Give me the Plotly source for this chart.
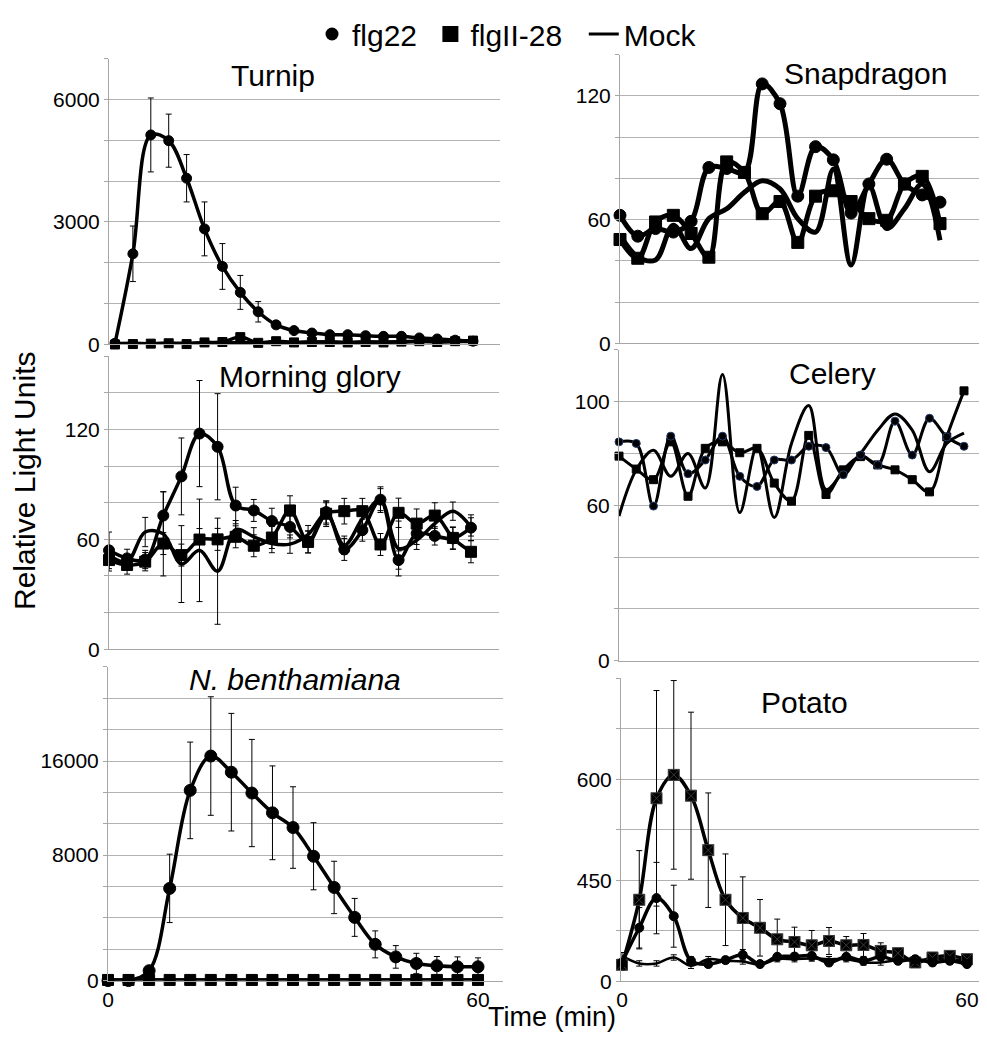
import plotly.graph_objects as go

# The page body adds an 8px margin, so the figure is drawn 8px smaller on each
# side and all reference pixel positions are shifted by that offset.
OFF = 8
W, H = 987 - 2 * OFF, 1042 - 2 * OFF

# ---------------- data ----------------
TIME_21 = [0, 3, 6, 9, 12, 15, 18, 21, 24, 27, 30, 33, 36, 39, 42, 45, 48, 51, 54, 57, 60]
TIME_SNAP = [0, 3, 6, 9, 12, 15, 18, 21, 24, 27, 30, 33, 36, 39, 42, 45, 48, 51, 54]
TIME_NB = [0, 3.33, 6.67, 10, 13.33, 16.67, 20, 23.33, 26.67, 30, 33.33, 36.67, 40,
           43.33, 46.67, 50, 53.33, 56.67, 60]

# Turnip
turnip_flg22 = [30, 2220, 5130, 4990, 4070, 2830, 1910, 1275, 800, 480, 340, 280, 240,
                240, 215, 200, 200, 160, 135, 105, 80]
turnip_flg22_err = [0, 680, 905, 650, 580, 660, 560, 415, 250, 40, 40, 30, 30, 30, 30,
                    30, 30, 30, 30, 30, 30]
turnip_flgII = [0, 10, 20, 30, 10, 50, 60, 180, 40, 80, 50, 60, 60, 50, 60, 50, 70, 80,
                60, 80, 95]
turnip_mock = [20, 30, 20, 30, 30, 40, 40, 50, 40, 50, 50, 60, 60, 50, 60, 60, 60, 70,
               70, 70, 80]

# Morning glory
mg_flg22 = [54, 49.6, 49, 73, 94.4, 117.8, 110.6, 78.5, 75.8, 70, 66.8, 58.6, 74.9, 54.5,
            65, 81.7, 48.7, 63.2, 61.9, 60.5, 66.4]
mg_flg22_err = [10, 5, 5, 13, 21, 29, 29, 10, 6, 7, 6, 6, 6, 6, 6, 7, 5, 6, 5, 6, 7]
mg_flgII = [48.7, 46, 47.8, 57.7, 51.4, 59.9, 60, 61.4, 56.5, 61, 75.8, 58.6, 74, 75.4,
            75.4, 57.2, 74.5, 68.6, 73, 60.8, 53.2]
mg_flgII_err = [6, 5, 5, 6, 6, 6, 6, 6, 6, 6, 8, 6, 7, 7, 7, 6, 8, 8, 7, 6, 6]
mg_mock = [51.4, 47.8, 64, 63, 46.5, 54, 42.6, 65.3, 61.4, 57.7, 57.4, 62.6, 74, 56.8,
           71.3, 81.7, 55, 59.5, 68.6, 75.4, 66.8]
mg_mock_err = [5, 4, 8, 23, 21, 28, 29, 5, 5, 5, 5, 5, 6, 5, 6, 6, 15, 5, 5, 5, 5]

# N. benthamiana
nb_flg22 = [0, 0, 630, 5880, 12130, 14320, 13290, 11960, 10700, 9760, 7930, 5940, 4030,
            2310, 1510, 1090, 945, 880, 880]
nb_flg22_err = [0, 0, 150, 2180, 3080, 3780, 3750, 3420, 2990, 2600, 2140, 1670, 1210,
                860, 720, 650, 590, 630, 570]
nb_flgII = [40, 40, 40, 40, 40, 40, 40, 40, 40, 40, 40, 40, 40, 40, 40, 40, 40, 40, 40]
nb_mock = [30, 30, 30, 30, 30, 30, 30, 30, 30, 30, 30, 30, 30, 30, 30, 30, 30, 30, 30]

# Snapdragon
snap_flg22 = [62.1, 52, 55.7, 54, 59.2, 85.3, 84.8, 82.9, 125.8, 116.2, 71.4, 95.4, 89,
              63.2, 77.3, 89.3, 77.3, 72, 68.5]
snap_flgII = [50.4, 41.3, 58.9, 62.1, 53.3, 41.8, 88, 82.9, 62.9, 68.8, 49, 71.4, 74,
              68.8, 60.5, 59.7, 77.3, 81, 58.1]
snap_mock = [52.5, 42, 40.5, 57.3, 46, 60.5, 65.3, 73.3, 78.9, 74.9, 60.5, 54, 84.5, 38,
             76.5, 55.7, 65.3, 77.3, 50]

# Celery
cel_flg22 = [84.5, 83.9, 59.7, 86.7, 72.2, 77.5, 86.7, 71.2, 67.3, 77.5, 77.5, 82.8, 82.3,
             71.8, 79.4, 75.6, 92.5, 79.4, 93.6, 86.4, 82.8]
cel_flgII = [79, 74, 69.9, 84.5, 63.5, 82, 84.5, 80.3, 82, 68.6, 61.6, 87, 64.2, 73.7,
             78.8, 75.6, 73.7, 69.9, 65.2, 86.4, 104.2]
cel_mock = [55.9, 73.7, 81.3, 71.2, 80, 66.7, 110.5, 57.2, 82.6, 55.3, 83.9, 98.5, 66.1,
            73, 80, 89, 95.3, 89, 73, 83.9, 87.9]

# Potato (axis shown broken: lowest gridline labelled "0")
pot_flg22 = [327.9, 379.4, 423.5, 396.6, 330.4, 325.5, 331.4, 339.2, 325.5, 336.3, 336.8,
             337.7, 327.9, 336.3, 330.4, 336.3, 330.4, 332.8, 327.9, 330.4, 325.5]
pot_flg22_err = [6, 30, 53, 46, 6, 5, 5, 8, 5, 5, 5, 5, 5, 5, 5, 5, 5, 5, 5, 5, 5]
pot_flgII = [324.5, 421, 571.6, 606.4, 575.5, 494.6, 421, 394, 379.4, 362.3, 358.3, 353.4,
             359.8, 353.4, 353.9, 345.1, 341.7, 327.9, 335.3, 337.7, 332.8]
pot_flgII_err = [8, 73, 160, 140, 124, 85, 68, 61, 42, 30, 22, 22, 20, 13, 17, 12, 6, 5,
                 5, 5, 5]
pot_mock = [337.7, 326.5, 326.5, 335.3, 323, 332.8, 330.4, 329.4, 324.5, 332.8, 332.8,
            333.8, 332.8, 332.8, 327.9, 327.9, 331.4, 331.4, 332.8, 332.8, 330.4]
pot_mock_err = [5, 4, 4, 4, 4, 4, 4, 4, 4, 4, 4, 4, 4, 4, 4, 4, 4, 4, 4, 4, 4]

# tick labels
turnip_ticks = [0, 1000, 2000, 3000, 4000, 5000, 6000, 7000]
turnip_ticktext = ["0", "", "", "3000", "", "", "6000", ""]
mg_ticks = [0, 20, 40, 60, 80, 100, 120, 140, 160]
mg_ticktext = ["0", "", "", "60", "", "", "120", "", ""]
nb_ticks = [0, 2000, 4000, 6000, 8000, 10000, 12000, 14000, 16000, 18000, 20000]
nb_ticktext = ["0", "", "", "", "8000", "", "", "16000", "", "", ""]
snap_ticks = [0, 20, 40, 60, 80, 100, 120, 140]
snap_ticktext = ["0", "", "", "60", "", "", "120", ""]
cel_ticks = [0, 20, 40, 60, 80, 100, 120]
cel_ticktext = ["0", "", "", "60", "", "100", ""]
pot_ticks = [300, 375, 450, 525, 600, 675, 750]
pot_ticktext = ["0", "", "450", "", "600", "", ""]
x_ticks = [0, 60]
x_ticktext = ["0", "60"]


def fx(px):
    return (px - OFF) / W


def fy(py):
    return 1 - (py - OFF) / H


# ---------------- layout of panels (reference pixels) ----------------
panels = [
    dict(title="Turnip", tx=273, ty=65, box=(109, 500, 48, 337), x0=115, ppm=5.967,
         yr=(0, 7000), ticks=turnip_ticks, ticktext=turnip_ticktext, bottom=False,
         t=TIME_21, f=turnip_flg22, fe=turnip_flg22_err, s=turnip_flgII, se=None,
         m=turnip_mock, me=None, cs=10, ss=9, lw=3.5, mlw=3.5),
    dict(title="Morning glory", tx=310, ty=369, box=(109, 499, 349, 645), x0=109, ppm=6.033,
         yr=(0, 160), ticks=mg_ticks, ticktext=mg_ticktext, bottom=False,
         t=TIME_21, f=mg_flg22, fe=mg_flg22_err, s=mg_flgII, se=mg_flgII_err,
         m=mg_mock, me=mg_mock_err, cs=11, ss=11, lw=3.5, mlw=3.5),
    dict(title="<i>N. benthamiana</i>", tx=295, ty=676, box=(108, 503, 663, 980), x0=108,
         ppm=6.167, yr=(0, 20000), ticks=nb_ticks, ticktext=nb_ticktext, bottom=True,
         t=TIME_NB, f=nb_flg22, fe=nb_flg22_err, s=nb_flgII, se=None,
         m=nb_mock, me=None, cs=12, ss=11, lw=3.5, mlw=3.5),
    dict(title="Snapdragon", tx=865, ty=63, box=(620, 979, 44, 336), x0=620, ppm=5.926,
         yr=(0, 140), ticks=snap_ticks, ticktext=snap_ticktext, bottom=False,
         t=TIME_SNAP, f=snap_flg22, fe=None, s=snap_flgII, se=None,
         m=snap_mock, me=None, cs=12, ss=12, lw=5, mlw=5),
    dict(title="Celery", tx=832, ty=366, box=(619, 979, 342.5, 656.7), x0=619, ppm=5.75,
         yr=(0, 120), ticks=cel_ticks, ticktext=cel_ticktext, bottom=False,
         t=TIME_21, f=cel_flg22, fe=None, s=cel_flgII, se=None,
         m=cel_mock, me=None, cs=8, ss=8, lw=3, mlw=3),
    dict(title="Potato", tx=804, ty=699, box=(621, 979, 674.3, 980.7), x0=622, ppm=5.75,
         yr=(300, 750), ticks=pot_ticks, ticktext=pot_ticktext, bottom=True,
         t=TIME_21, f=pot_flg22, fe=pot_flg22_err, s=pot_flgII, se=pot_flgII_err,
         m=pot_mock, me=pot_mock_err, cs=9, ss=11, lw=3.5, mlw=2.5),
]

FONT = "Liberation Sans, Arial, Helvetica, sans-serif"
GRID = "#b2b2b2"
AXIS = "#a6a6a6"
NB = "\u00a0"

fig = go.Figure()
layout = dict(width=W, height=H, autosize=False, margin=dict(l=0, r=0, t=0, b=0, pad=0),
              paper_bgcolor="white", plot_bgcolor="white", showlegend=True,
              font=dict(family=FONT, color="black"))
annotations = []


def err(arr):
    if arr is None:
        return None
    return dict(type="data", array=arr, visible=True, color="black", thickness=1, width=3)


for i, p in enumerate(panels, start=1):
    xa, ya = f"x{i}", f"y{i}"
    left, right, top, bottom = p["box"]
    xr = [(left - p["x0"]) / p["ppm"], (right - p["x0"]) / p["ppm"]]
    sfx = "" if i == 1 else str(i)
    layout["xaxis" + sfx] = dict(
        domain=[fx(left), min(1.0, fx(right))], range=xr, anchor=ya, showgrid=False,
        zeroline=False, showline=True, linecolor=AXIS, linewidth=1, ticks="",
        automargin=False, tickmode="array", tickvals=x_ticks, ticktext=x_ticktext,
        showticklabels=p["bottom"], tickfont=dict(size=21), fixedrange=True)
    layout["yaxis" + sfx] = dict(
        domain=[fy(bottom), fy(top)], range=list(p["yr"]), anchor=xa,
        showgrid=True, gridcolor=GRID, gridwidth=1, zeroline=False, automargin=False,
        showline=True, linecolor=AXIS, linewidth=1, ticks="outside", ticklen=4,
        tickcolor=AXIS, tickmode="array", tickvals=p["ticks"], ticktext=p["ticktext"],
        tickfont=dict(size=21), fixedrange=True)

    # Mock
    fig.add_trace(go.Scatter(x=p["t"], y=p["m"], xaxis=xa, yaxis=ya, mode="lines",
                             line=dict(color="black", width=p["mlw"], shape="spline",
                                       smoothing=1),
                             error_y=err(p["me"]), showlegend=False, cliponaxis=False,
                             name="Mock"))
    # flgII-28
    sq_symbol = "square-x" if i == 6 else "square"
    fig.add_trace(go.Scatter(x=p["t"], y=p["s"], xaxis=xa, yaxis=ya, mode="lines+markers",
                             line=dict(color="black", width=p["lw"], shape="spline",
                                       smoothing=1),
                             marker=dict(symbol=sq_symbol, size=p["ss"], color="black",
                                         line=dict(color="#3a3a3a" if i == 6 else "black",
                                                   width=1)),
                             error_y=err(p["se"]), showlegend=False, cliponaxis=False,
                             name="flgII-28"))
    # flg22
    fig.add_trace(go.Scatter(x=p["t"], y=p["f"], xaxis=xa, yaxis=ya, mode="lines+markers",
                             line=dict(color="black", width=p["lw"], shape="spline",
                                       smoothing=1),
                             marker=dict(symbol="circle", size=p["cs"], color="black",
                                         line=dict(color="#243a6b" if i == 5 else "black",
                                                   width=1)),
                             error_y=err(p["fe"]), showlegend=False, cliponaxis=False,
                             name="flg22"))

    annotations.append(dict(text=p["title"], x=fx(p["tx"]), y=fy(p["ty"]),
                            xref="paper", yref="paper", xanchor="center", yanchor="middle",
                            showarrow=False, font=dict(size=30, family=FONT)))

# legend entries
fig.add_trace(go.Scatter(x=[None], y=[None], mode="markers", name="flg22" + NB,
                         marker=dict(symbol="circle", size=13, color="black")))
fig.add_trace(go.Scatter(x=[None], y=[None], mode="markers", name="flgII-28" + NB + NB,
                         marker=dict(symbol="square", size=16, color="black")))
fig.add_trace(go.Scatter(x=[None], y=[None], mode="lines", name="Mock",
                         line=dict(color="black", width=3)))

layout["legend"] = dict(orientation="h", x=fx(507), xanchor="center", y=fy(23),
                        yanchor="middle", font=dict(size=30, family=FONT),
                        bgcolor="rgba(0,0,0,0)", itemclick=False, itemdoubleclick=False,
                        tracegroupgap=0)

annotations.append(dict(text="Relative Light Units", x=fx(25), y=fy(475), xref="paper",
                        yref="paper", textangle=-90, showarrow=False, xanchor="center",
                        yanchor="middle", font=dict(size=30, family=FONT)))
annotations.append(dict(text="Time (min)", x=fx(552), y=0, xref="paper",
                        yref="paper", showarrow=False, xanchor="center", yanchor="bottom",
                        font=dict(size=27, family=FONT)))
layout["annotations"] = annotations

fig.update_layout(**layout)
fig.write_html("out.html")
